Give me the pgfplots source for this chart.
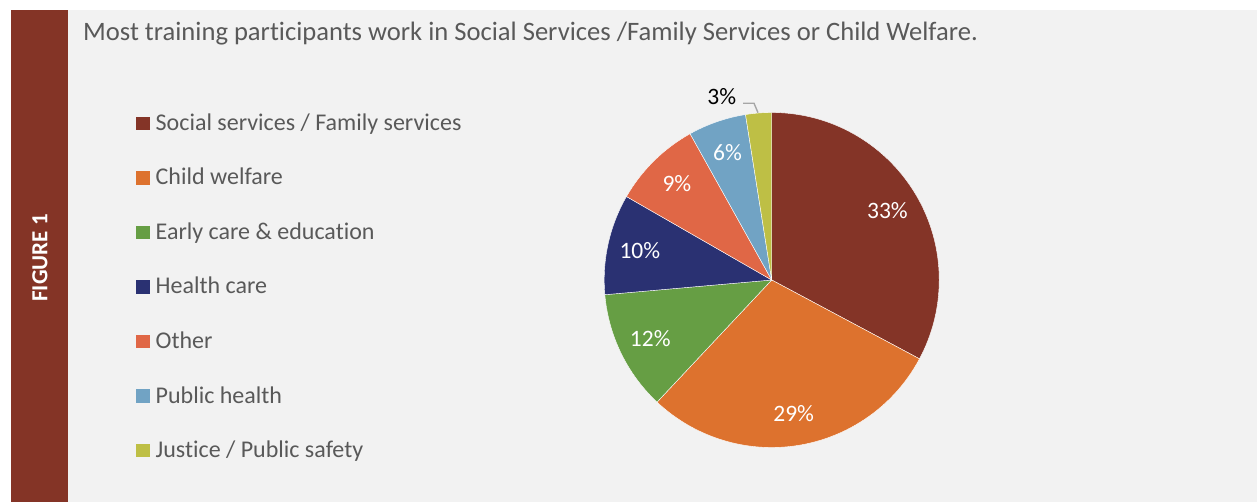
\documentclass[border=0pt]{standalone}
\usepackage{pgfplots}
\pgfplotsset{compat=1.18}
\usepackage{pgfplotstable}
\usepackage{fontspec}
\setmainfont{Carlito}[Ligatures=NoCommon]
\definecolor{figred}{RGB}{132,52,38}
\definecolor{bggray}{RGB}{242,242,242}
\definecolor{txtgray}{RGB}{89,89,89}
\definecolor{leadgray}{RGB}{166,166,166}
\definecolor{c0}{RGB}{132,52,39}
\definecolor{c1}{RGB}{221,114,46}
\definecolor{c2}{RGB}{102,158,68}
\definecolor{c3}{RGB}{42,49,114}
\definecolor{c4}{RGB}{224,103,70}
\definecolor{c5}{RGB}{113,163,196}
\definecolor{c6}{RGB}{190,191,69}

\pgfplotstableread[col sep=comma]{
value,pct,label
32.8,33,Social services / Family services
29.2,29,Child welfare
11.6,12,Early care \& education
9.7,10,Health care
8.6,9,Other
5.6,6,Public health
2.5,3,Justice / Public safety
}\piedata

\begin{document}
\begin{tikzpicture}
\begin{axis}[
  scale only axis, width=1257pt, height=502pt,
  xmin=0, xmax=1257, ymin=0, ymax=502, y dir=reverse,
  axis lines=none, clip=false,
  at={(0pt,0pt)}, anchor=south west,
]
\pgfplotsextra{
  \fill[white] (axis cs:0,0) rectangle (axis cs:1257,502);
  \fill[figred] (axis cs:11,10) rectangle (axis cs:68,502);
  \fill[bggray] (axis cs:68,10) rectangle (axis cs:1257,502);
  \node[rotate=90, text=white, font=\fontsize{23}{28}\selectfont\bfseries] at (axis cs:40,258) {FIGURE 1};
  \node[anchor=base west, text=txtgray, inner sep=0pt, font=\fontsize{26.6}{30}\selectfont] at (axis cs:83,40.5) {Most training participants work in Social Services /Family Services or Child Welfare.};
  \gdef\cum{0}
  \foreach \i in {0,...,6}{
    \pgfplotstablegetelem{\i}{value}\of\piedata \let\val\pgfplotsretval
    \pgfplotstablegetelem{\i}{pct}\of\piedata \let\pc\pgfplotsretval
    \pgfplotstablegetelem{\i}{label}\of\piedata \let\lab\pgfplotsretval
    \pgfmathsetmacro\sa{90-3.6*\cum}
    \pgfmathsetmacro\ea{90-3.6*(\cum+\val)}
    \pgfmathsetmacro\ma{(\sa+\ea)/2}
    \fill[c\i, draw=white, line width=0.4pt] (axis cs:771.7,280) -- ++(\sa:167.5pt) arc[start angle=\sa, end angle=\ea, radius=167.5pt] -- cycle;
    \ifnum\i<6
      \path (axis cs:771.7,280) ++(\ma:135pt) node[text=white, font=\fontsize{23.5}{28}\selectfont] {\pc\%};
    \else
      \draw[leadgray, line width=1.4pt] (axis cs:743,103.3) -- (axis cs:754,103.3) -- (axis cs:758,112.7);
      \node[text=black, font=\fontsize{23.5}{28}\selectfont] at (axis cs:721.7,96.7) {\pc\%};
    \fi
    \pgfmathsetmacro\ly{116.7+54.5*\i}
    \pgfmathsetmacro\lb{130.5+54.5*\i}
    \fill[c\i] (axis cs:136,\ly) rectangle ++(14pt,-13.5pt);
    \node[anchor=base west, inner sep=0pt, text=txtgray, font=\fontsize{24}{28}\selectfont] at (axis cs:155.5,\lb) {\lab};
    \pgfmathsetmacro\cumnew{\cum+\val}
    \xdef\cum{\cumnew}
  }
}
\end{axis}
\end{tikzpicture}
\end{document}
